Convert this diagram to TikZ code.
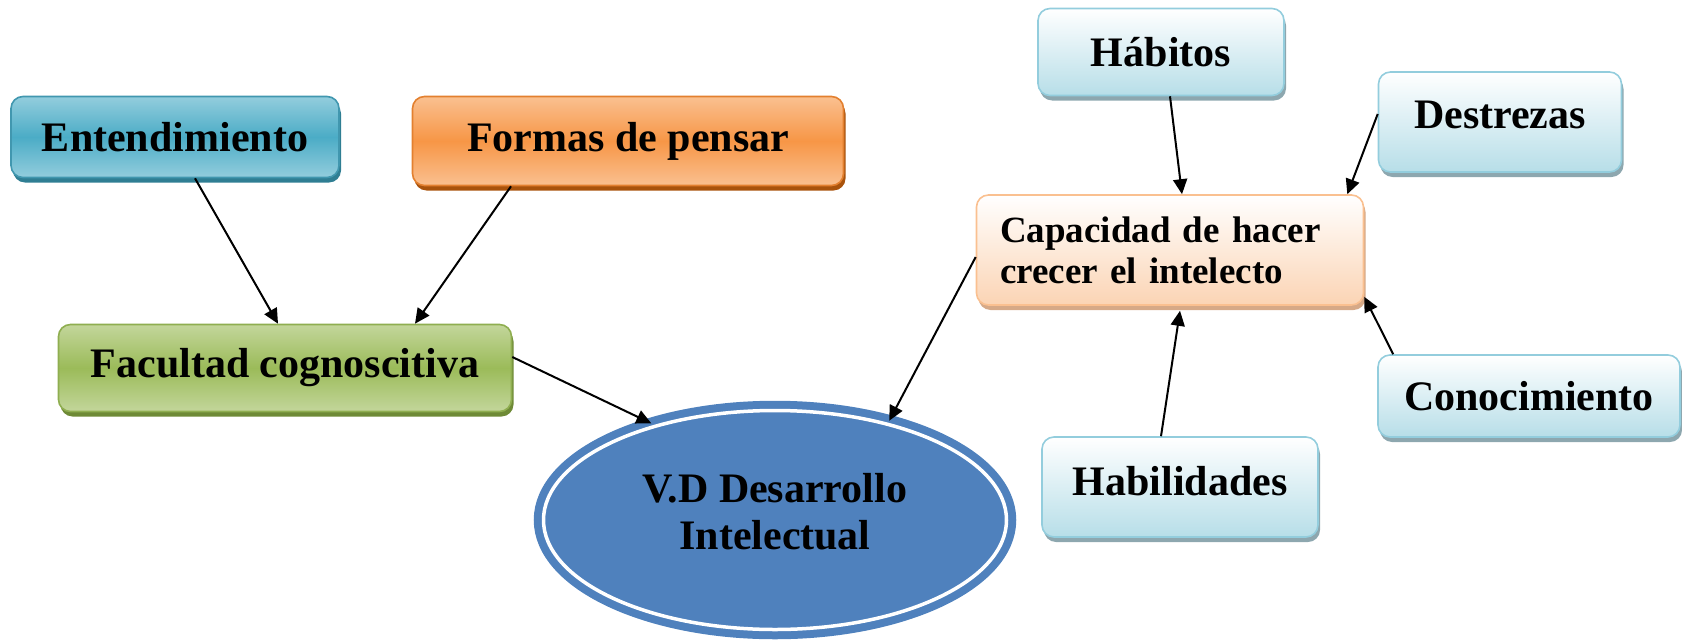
\documentclass[tikz,border=0pt]{standalone}
\usepackage{fontspec}
\setmainfont{Liberation Serif}
\usepackage{xcolor}
\usetikzlibrary{arrows.meta}
\usetikzlibrary{shapes.geometric}
\usetikzlibrary{shadows}

\definecolor{entMid}{HTML}{4BACC6}
\definecolor{entTop}{HTML}{93CDDD}
\definecolor{entLine}{HTML}{4197AF}
\definecolor{entShadow}{HTML}{2F7E93}
\definecolor{formMid}{HTML}{F79646}
\definecolor{formTop}{HTML}{FAC090}
\definecolor{formLine}{HTML}{E3802F}
\definecolor{formShadow}{HTML}{A9530C}
\definecolor{facMid}{HTML}{9BBB59}
\definecolor{facTop}{HTML}{C3D69B}
\definecolor{facLine}{HTML}{8FAE50}
\definecolor{facShadow}{HTML}{6E8A36}
\definecolor{skyLow}{HTML}{B7DEE8}
\definecolor{skyLine}{HTML}{93CDDD}
\definecolor{skyShadow}{HTML}{8DA7AF}
\definecolor{peachLow}{HTML}{FBD4B4}
\definecolor{peachLine}{HTML}{FAC090}
\definecolor{peachShadow}{HTML}{D6A987}
\definecolor{goalBlue}{HTML}{4F81BD}

\tikzset{
  box/.style={rectangle, rounded corners=12pt, line width=1.6pt, inner sep=0pt,
    font=\fontsize{42}{47}\selectfont\bfseries},
  tealbox/.style={box, draw=entLine, top color=entTop, bottom color=entTop, middle color=entMid,
    drop shadow={shadow xshift=2pt, shadow yshift=-5pt, fill=entShadow, opacity=1}},
  orangebox/.style={box, draw=formLine, top color=formTop, bottom color=formTop, middle color=formMid,
    drop shadow={shadow xshift=2pt, shadow yshift=-5pt, fill=formShadow, opacity=1}},
  greenbox/.style={box, draw=facLine, top color=facTop, bottom color=facTop, middle color=facMid,
    drop shadow={shadow xshift=2pt, shadow yshift=-5pt, fill=facShadow, opacity=1}},
  skybox/.style={box, draw=skyLine, top color=white, bottom color=skyLow,
    drop shadow={shadow xshift=2pt, shadow yshift=-5pt, fill=skyShadow, opacity=1}},
  peachbox/.style={box, draw=peachLine, top color=white, bottom color=peachLow,
    drop shadow={shadow xshift=2pt, shadow yshift=-5pt, fill=peachShadow, opacity=1}},
  goal/.style={ellipse, inner sep=0pt, fill=goalBlue, draw=goalBlue, line width=8pt,
    double=white, double distance=3.5pt, align=center,
    font=\fontsize{42}{47}\selectfont\bfseries},
  link/.style={-{Triangle[length=15pt,width=14pt]}, line width=2pt},
}

\begin{document}
\begin{tikzpicture}[x=1pt, y=-1pt]
\useasboundingbox (0,0) rectangle (1682,640);

% left branch
\node[tealbox, minimum width=328pt, minimum height=81pt] (ent) at (175,137) {Entendimiento};
\node[orangebox, minimum width=431pt, minimum height=89pt] (form) at (628,141) {Formas de pensar};
\node[greenbox, minimum width=453pt, minimum height=87pt] (fac) at (285,368) {Facultad cognoscitiva};

% centre
\node[goal, minimum width=463pt, minimum height=219pt, text depth=17pt] (vd) at (775,520) {V.D Desarrollo\\Intelectual};

% right branch
\node[skybox, minimum width=246pt, minimum height=87pt] (hab) at (1161,52) {Hábitos};
\node[skybox, minimum width=243pt, minimum height=100pt, text depth=14pt] (des) at (1500,122) {Destrezas};
\node[peachbox, minimum width=387pt, minimum height=110pt, text width=340pt, align=left,
  font=\fontsize{37}{41}\selectfont\bfseries] (cap) at (1170,250) {Capacidad de hacer\\crecer el intelecto};
\node[skybox, minimum width=276pt, minimum height=100pt, text depth=12pt] (hbl) at (1180,487) {Habilidades};
\node[skybox, minimum width=302pt, minimum height=82pt] (con) at (1529,396) {Conocimiento};

\draw[link] ([xshift=20pt]ent.south) -- ([xshift=-7pt]fac.north);
\draw[link] ([xshift=-117pt]form.south) -- ([xshift=130pt]fac.north);
\draw[link] ([yshift=11pt]fac.east) -- (vd.142);
\draw[link] ([yshift=-7pt]cap.west) -- (vd.41);
\draw[link] ([xshift=9pt]hab.south) -- ([xshift=12pt]cap.north);
\draw[link] ([yshift=8pt]des.west) -- ([xshift=-17pt]cap.north east);
\draw[link] ([xshift=16pt]con.north west) -- ([yshift=9pt]cap.south east);
\draw[link] ([xshift=-19pt]hbl.north) -- ([xshift=10pt,yshift=-5pt]cap.south);
\end{tikzpicture}
\end{document}
